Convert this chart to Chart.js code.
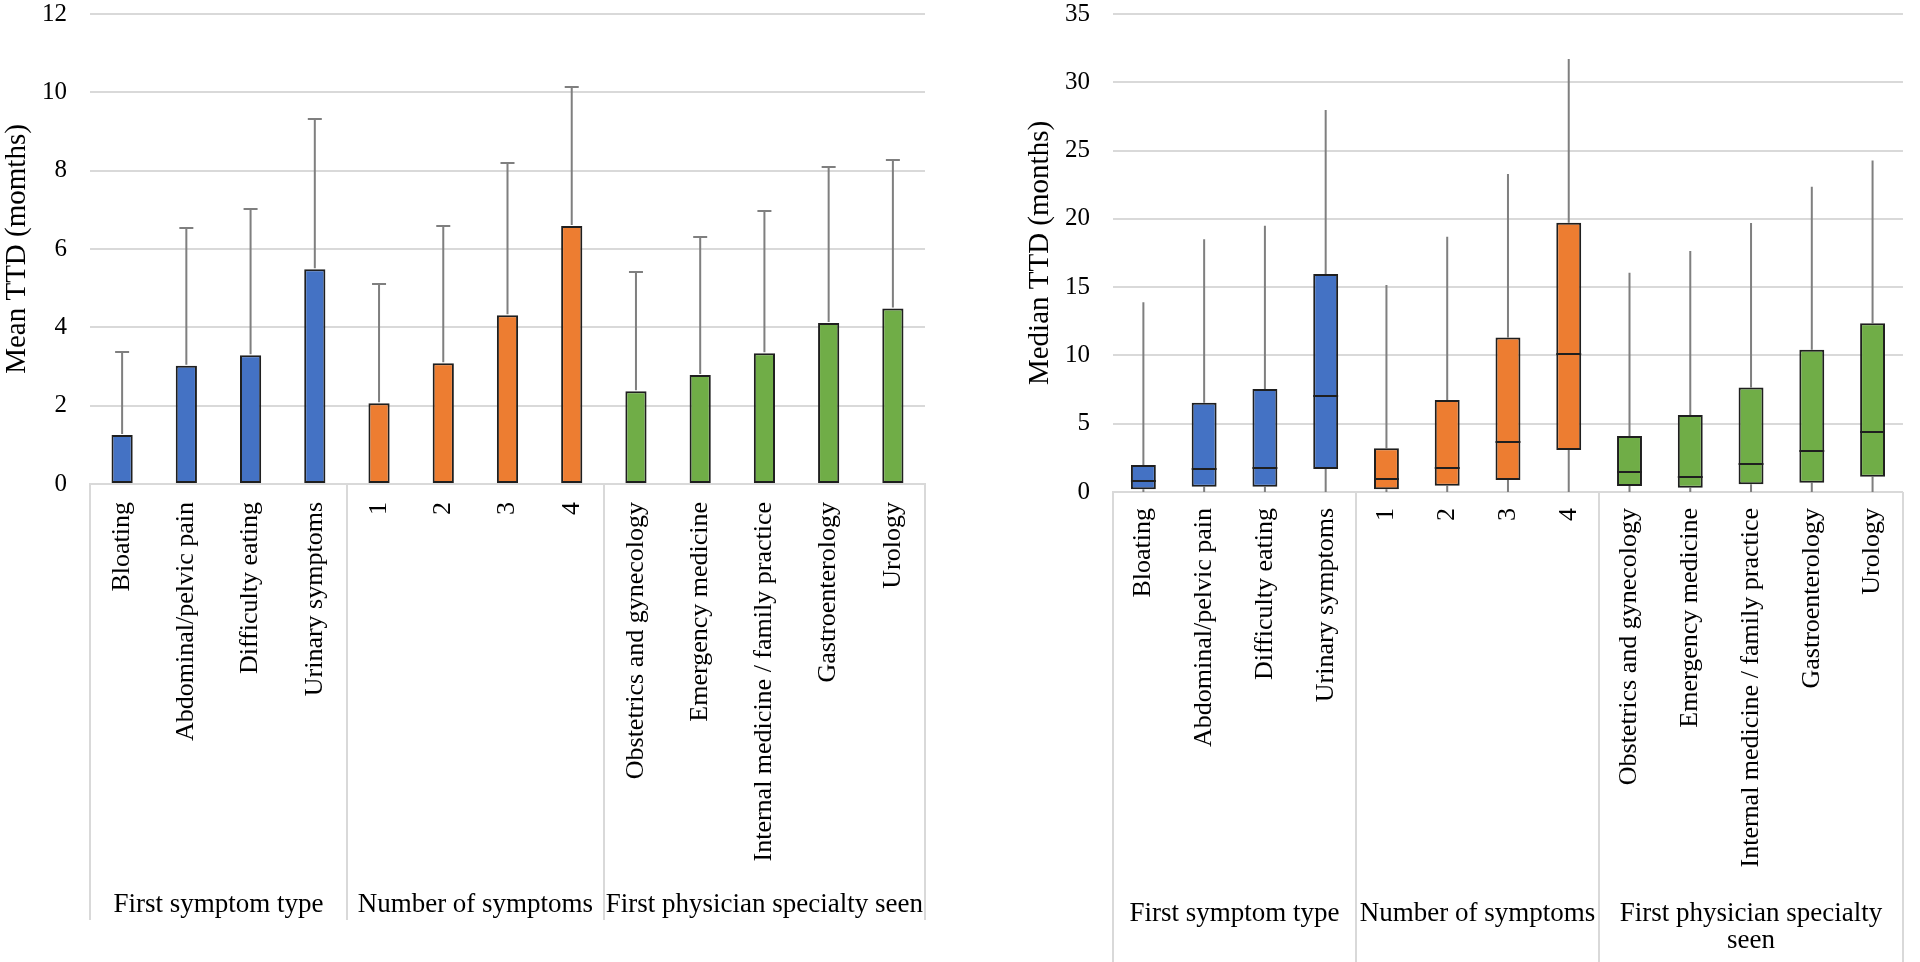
<!DOCTYPE html>
<html>
<head>
<meta charset="utf-8">
<script src="https://cdn.jsdelivr.net/npm/chart.js@4.4.0/dist/chart.umd.min.js"></script>
<style>
  html, body { margin: 0; padding: 0; background: #fff; }
  .panel { position: absolute; top: 0; width: 960px; height: 962px; }
  #leftPanel { left: 0; }
  #rightPanel { left: 960px; }
</style>
</head>
<body>
<div class="panel" id="leftPanel"><canvas id="meanChart" width="960" height="962"></canvas></div>
<div class="panel" id="rightPanel"><canvas id="medianChart" width="960" height="962"></canvas></div>
<script>
// Categories and groups (shared by both panels)
const categories = [
  'Bloating', 'Abdominal/pelvic pain', 'Difficulty eating', 'Urinary symptoms',
  '1', '2', '3', '4',
  'Obstetrics and gynecology', 'Emergency medicine', 'Internal medicine / family practice',
  'Gastroenterology', 'Urology'
];
const groupNames = ['First symptom type', 'Number of symptoms', 'First physician specialty seen'];
const groupSizes = [4, 4, 5];
const groupColors = ['#4472c4', '#ed7d31', '#70ad47'];

// Left panel: mean TTD and top of error bar
const meanTtd = [1.25, 3.02, 3.29, 5.48, 2.06, 3.08, 4.31, 6.59, 2.37, 2.78, 3.34, 4.11, 4.48];
const meanErrTop = [3.38, 6.53, 7.01, 9.31, 5.11, 6.59, 8.19, 10.13, 5.41, 6.31, 6.96, 8.09, 8.27];

// Right panel: median TTD box plot
const boxMin = [0, 0, 0, 0, 0, 0, 0, 0, 0, 0, 0, 0, 0];
const boxQ1 = [0.2, 0.39, 0.39, 1.68, 0.2, 0.46, 0.88, 3.07, 0.44, 0.32, 0.56, 0.68, 1.12];
const boxMedian = [0.8, 1.66, 1.73, 7.03, 0.95, 1.78, 3.64, 10.1, 1.49, 1.12, 2.05, 3.0, 4.41];
const boxQ3 = [1.98, 6.54, 7.54, 15.96, 3.2, 6.73, 11.32, 19.72, 4.1, 5.64, 7.66, 10.42, 12.35];
const boxMax = [13.9, 18.5, 19.5, 27.97, 15.15, 18.69, 23.28, 31.7, 16.06, 17.64, 19.69, 22.35, 24.28];

const barColors = groupSizes.flatMap((n, g) => Array(n).fill(groupColors[g]));
const FONT = 'Liberation Serif';
const GRID = '#d9d9d9';
const WHISKER = '#7f7f7f';

// Draws the group dividers and group names under the rotated labels
const groupAxisPlugin = {
  id: 'groupAxis',
  afterDraw(chart, args, opts) {
    const { ctx, chartArea } = chart;
    const xScale = chart.scales.x;
    const step = xScale.width / categories.length;
    ctx.save();
    ctx.strokeStyle = GRID;
    ctx.lineWidth = 2;
    let idx = 0;
    const edges = [0];
    groupSizes.forEach(n => { idx += n; edges.push(idx); });
    edges.forEach(e => {
      const px = Math.round(xScale.left + e * step);
      ctx.beginPath();
      ctx.moveTo(px, chartArea.bottom);
      ctx.lineTo(px, opts.lineBottom);
      ctx.stroke();
    });
    ctx.fillStyle = '#000';
    ctx.font = opts.fontSize + 'px "' + FONT + '"';
    ctx.textAlign = 'center';
    ctx.textBaseline = 'alphabetic';
    groupNames.forEach((name, g) => {
      const x0 = xScale.left + edges[g] * step;
      const x1 = xScale.left + edges[g + 1] * step;
      const maxW = x1 - x0 - 2;
      // greedy wrap
      const words = name.split(' ');
      const lines = [];
      let line = '';
      words.forEach(w => {
        const test = line ? line + ' ' + w : w;
        if (line && ctx.measureText(test).width > maxW) {
          lines.push(line);
          line = w;
        } else {
          line = test;
        }
      });
      lines.push(line);
      lines.forEach((l, k) => {
        ctx.fillText(l, (x0 + x1) / 2, opts.baseline + k * opts.lineGap);
      });
    });
    ctx.restore();
  }
};

// Error bars above the mean bars
const errorBarPlugin = {
  id: 'errorBars',
  afterDatasetsDraw(chart) {
    const { ctx } = chart;
    const y = chart.scales.y;
    const meta = chart.getDatasetMeta(0);
    ctx.save();
    ctx.strokeStyle = WHISKER;
    ctx.lineWidth = 2;
    meta.data.forEach((bar, i) => {
      const top = Math.round(y.getPixelForValue(meanErrTop[i]));
      ctx.beginPath();
      ctx.moveTo(bar.x, bar.y - 1);
      ctx.lineTo(bar.x, top);
      ctx.moveTo(bar.x - 7, top);
      ctx.lineTo(bar.x + 7, top);
      ctx.stroke();
    });
    ctx.restore();
  }
};

// Whiskers behind the boxes, medians on top
const boxPlotPlugin = {
  id: 'boxParts',
  beforeDatasetsDraw(chart) {
    const { ctx } = chart;
    const y = chart.scales.y;
    const meta = chart.getDatasetMeta(0);
    ctx.save();
    ctx.strokeStyle = WHISKER;
    ctx.lineWidth = 2;
    meta.data.forEach((bar, i) => {
      ctx.beginPath();
      ctx.moveTo(bar.x, y.getPixelForValue(boxQ3[i]));
      ctx.lineTo(bar.x, y.getPixelForValue(boxMax[i]));
      ctx.moveTo(bar.x, y.getPixelForValue(boxQ1[i]));
      ctx.lineTo(bar.x, y.getPixelForValue(boxMin[i]));
      ctx.stroke();
    });
    ctx.restore();
  },
  afterDatasetsDraw(chart) {
    const { ctx } = chart;
    const y = chart.scales.y;
    const meta = chart.getDatasetMeta(0);
    ctx.save();
    ctx.strokeStyle = '#1f1f1f';
    ctx.lineWidth = 2;
    meta.data.forEach((bar, i) => {
      const py = Math.round(y.getPixelForValue(boxMedian[i]));
      ctx.beginPath();
      ctx.moveTo(bar.x - bar.width / 2, py);
      ctx.lineTo(bar.x + bar.width / 2, py);
      ctx.stroke();
    });
    ctx.restore();
  }
};

function makeOptions(cfg) {
  return {
    responsive: false,
    animation: false,
    devicePixelRatio: 1,
    layout: { padding: { top: 14, right: cfg.padRight, left: cfg.padLeft, bottom: 0 } },
    plugins: {
      legend: { display: false },
      tooltip: { enabled: false },
      groupAxis: cfg.group
    },
    scales: {
      x: {
        grid: { display: false, drawTicks: false },
        border: { color: GRID, width: 2 },
        ticks: {
          autoSkip: false,
          minRotation: 90,
          maxRotation: 90,
          padding: cfg.labelPad,
          color: '#000',
          font: { family: FONT, size: 26 }
        },
        afterFit: s => { s.height = cfg.xHeight; }
      },
      y: {
        min: 0,
        max: cfg.yMax,
        grid: { color: GRID, lineWidth: 2, drawTicks: false },
        border: { display: false },
        ticks: {
          stepSize: cfg.yStep,
          padding: 23,
          color: '#000',
          font: { family: FONT, size: 25, lineHeight: 1 }
        },
        title: {
          display: true,
          text: cfg.yTitle,
          color: '#000',
          padding: 0,
          font: { family: FONT, size: 29 }
        },
        afterFit: s => {
          s.width = 90;
          s.paddingTop = 0;
          s.paddingBottom = 0;
        }
      }
    }
  };
}

new Chart(document.getElementById('meanChart'), {
  type: 'bar',
  data: {
    labels: categories,
    datasets: [{
      data: meanTtd,
      backgroundColor: barColors,
      borderColor: '#1f1f1f',
      borderWidth: 2,
      borderSkipped: false,
      categoryPercentage: 1,
      barPercentage: 0.33
    }]
  },
  options: makeOptions({
    padLeft: 0, padRight: 35, xHeight: 478, labelPad: 18,
    yMax: 12, yStep: 2, yTitle: 'Mean TTD (momths)',
    group: { lineBottom: 920, baseline: 912, lineGap: 27, fontSize: 27 }
  }),
  plugins: [errorBarPlugin, groupAxisPlugin]
});

new Chart(document.getElementById('medianChart'), {
  type: 'bar',
  data: {
    labels: categories,
    datasets: [{
      data: boxQ1.map((q, i) => [q, boxQ3[i]]),
      backgroundColor: barColors,
      borderColor: '#1f1f1f',
      borderWidth: 2,
      borderSkipped: false,
      categoryPercentage: 1,
      barPercentage: 0.41
    }]
  },
  options: makeOptions({
    padLeft: 63, padRight: 6, xHeight: 470, labelPad: 16,
    yMax: 35, yStep: 5, yTitle: 'Median TTD (months)',
    group: { lineBottom: 962, baseline: 921, lineGap: 27, fontSize: 27 }
  }),
  plugins: [boxPlotPlugin, groupAxisPlugin]
});
</script>
</body>
</html>
